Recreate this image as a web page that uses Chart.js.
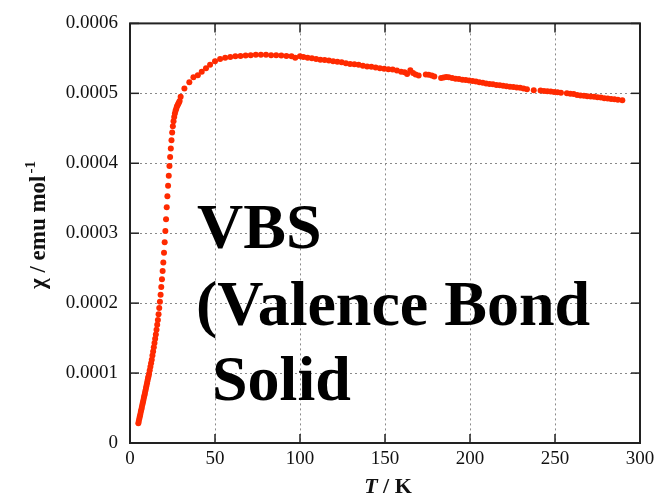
<!DOCTYPE html>
<html>
<head>
<meta charset="utf-8">
<script src="https://cdn.jsdelivr.net/npm/chart.js@4.4.0/dist/chart.umd.min.js"></script>
<style>
  html, body { margin: 0; padding: 0; background: #fff; }
  #wrap { width: 670px; height: 502px; }
</style>
</head>
<body>
<div id="wrap"><canvas id="chiPlot"></canvas></div>
<script>
// temperature (K) and susceptibility (emu/mol)
const tempK = [
  4.9, 5.2, 5.5, 5.8, 6.1, 6.4, 6.7, 7.0, 7.3, 7.6, 7.9, 8.2, 8.5, 8.8, 9.1, 9.4, 9.7, 10.0, 10.3, 10.6, 10.9,
  11.2, 11.6, 12.0, 12.4, 12.8, 13.2, 13.6, 14.0, 14.4, 14.8, 15.2, 15.6, 16.0, 16.4, 16.8, 17.2, 17.6, 18.0,
  18.4, 18.8, 19.2, 19.6, 20.0, 20.4, 20.8, 21.2, 21.6, 22.0, 22.4, 22.8, 23.2, 23.6, 24.0, 24.4, 24.8, 25.2,
  25.6, 26.0, 26.4, 26.8, 27.2, 27.6, 28.0, 28.4, 28.8, 29.2,
  29.8, 32.0, 34.9, 37.3, 39.9, 42.2, 44.7, 47.1, 50.0, 53.0, 56.0, 59.0, 62.0, 65.0, 68.0, 71.0, 74.0, 77.0,
  80.0, 83.0, 86.0, 89.0, 92.0, 95.0, 97.2, 100.0, 102.0, 104.5, 107.0, 109.5, 112.0, 114.5, 117.0, 119.5,
  122.0, 124.5, 127.0, 129.5, 132.0, 134.5, 137.0, 139.5, 142.0, 144.5, 147.0, 149.5, 152.0, 154.5, 157.0,
  159.5, 161.5, 163.0, 164.9, 166.5, 168.0, 169.8, 174.0, 175.7, 177.5, 179.0, 183.0, 184.5, 186.0, 187.5,
  189.5, 191.5, 193.5, 195.5, 197.5, 199.5, 201.5, 203.5, 205.5, 207.5, 209.5, 211.5, 213.5, 215.5, 217.5,
  219.5, 221.5, 223.5, 225.5, 227.5, 229.5, 231.5, 233.5, 237.5, 241.5, 243.5, 245.5, 247.5, 249.5, 251.5,
  253.5, 257.0, 259.0, 261.0, 263.0, 265.0, 267.0, 269.0, 271.0, 273.0, 275.0, 277.0, 279.0, 281.0, 283.0,
  285.0, 287.0, 289.6
];
const chi = [
  2.83e-5, 3.15e-5, 3.50e-5, 3.82e-5, 4.15e-5, 4.50e-5, 4.82e-5, 5.15e-5, 5.50e-5, 5.82e-5, 6.15e-5, 6.50e-5,
  6.82e-5, 7.15e-5, 7.50e-5, 7.85e-5, 8.20e-5, 8.55e-5, 8.90e-5, 9.25e-5, 9.55e-5,
  9.90e-5, 10.4e-5, 10.9e-5, 11.4e-5, 11.9e-5, 12.5e-5, 13.1e-5, 13.7e-5, 14.3e-5, 14.9e-5, 15.5e-5, 16.2e-5,
  16.9e-5, 17.6e-5, 18.4e-5, 19.3e-5, 20.2e-5, 21.2e-5, 22.3e-5, 23.4e-5, 24.6e-5, 25.8e-5, 27.2e-5, 28.7e-5,
  30.3e-5, 32.0e-5, 33.7e-5, 35.3e-5, 36.8e-5, 38.2e-5, 39.6e-5, 40.9e-5, 42.1e-5, 43.3e-5, 44.4e-5, 45.3e-5,
  46.0e-5, 46.6e-5, 47.1e-5, 47.5e-5, 47.8e-5, 48.1e-5, 48.3e-5, 48.5e-5, 48.7e-5, 48.9e-5,
  49.5e-5, 50.7e-5, 51.6e-5, 52.3e-5, 52.6e-5, 53.1e-5, 53.6e-5, 54.1e-5, 54.6e-5, 54.9e-5, 55.1e-5, 55.2e-5,
  55.3e-5, 55.35e-5, 55.4e-5, 55.45e-5, 55.5e-5, 55.5e-5, 55.5e-5, 55.45e-5, 55.45e-5, 55.4e-5, 55.35e-5,
  55.3e-5, 55.1e-5, 55.3e-5, 55.2e-5, 55.1e-5, 55.0e-5, 54.9e-5, 54.8e-5, 54.75e-5, 54.7e-5, 54.6e-5,
  54.5e-5, 54.45e-5, 54.3e-5, 54.2e-5, 54.15e-5, 54.1e-5, 53.95e-5, 53.85e-5, 53.8e-5, 53.7e-5, 53.6e-5,
  53.5e-5, 53.45e-5, 53.4e-5, 53.25e-5, 53.1e-5, 53.0e-5, 52.75e-5, 53.3e-5, 52.9e-5, 52.7e-5, 52.55e-5,
  52.7e-5, 52.65e-5, 52.55e-5, 52.4e-5, 52.2e-5, 52.25e-5, 52.35e-5, 52.3e-5, 52.2e-5, 52.1e-5, 52.05e-5,
  51.95e-5, 51.9e-5, 51.85e-5, 51.75e-5, 51.7e-5, 51.6e-5, 51.5e-5, 51.4e-5, 51.35e-5, 51.3e-5, 51.2e-5,
  51.15e-5, 51.1e-5, 51.0e-5, 50.95e-5, 50.9e-5, 50.85e-5, 50.8e-5, 50.7e-5, 50.6e-5, 50.45e-5, 50.4e-5,
  50.35e-5, 50.3e-5, 50.25e-5, 50.2e-5, 50.15e-5, 50.1e-5, 50.0e-5, 49.95e-5, 49.9e-5, 49.75e-5, 49.7e-5,
  49.65e-5, 49.6e-5, 49.55e-5, 49.5e-5, 49.45e-5, 49.4e-5, 49.3e-5, 49.25e-5, 49.2e-5, 49.15e-5, 49.1e-5,
  49.0e-5
];
const xTicks = [0, 50, 100, 150, 200, 250, 300];
const xTickLabels = ['0', '50', '100', '150', '200', '250', '300'];
const yTicks = [0, 0.0001, 0.0002, 0.0003, 0.0004, 0.0005, 0.0006];
const yTickLabels = ['0', '0.0001', '0.0002', '0.0003', '0.0004', '0.0005', '0.0006'];
const noteLines = ['VBS', '(Valence Bond', 'Solid'];

const SERIF = '"Liberation Serif", "Times New Roman", serif';

// gridlines, inward ticks, frame, axis titles and the note
const framePlugin = {
  id: 'frame',
  beforeDatasetsDraw(chart) {
    const { ctx, chartArea: a, scales: { x, y } } = chart;
    ctx.save();
    ctx.strokeStyle = '#8a8a8a';
    ctx.lineWidth = 1;
    ctx.setLineDash([2, 3]);
    xTicks.forEach(v => {
      if (v <= x.min || v >= x.max) return;
      const px = Math.round(x.getPixelForValue(v)) + 0.5;
      ctx.beginPath(); ctx.moveTo(px, a.top); ctx.lineTo(px, a.bottom); ctx.stroke();
    });
    yTicks.forEach(v => {
      if (v <= y.min || v >= y.max) return;
      const py = Math.round(y.getPixelForValue(v)) + 0.5;
      ctx.beginPath(); ctx.moveTo(a.left, py); ctx.lineTo(a.right, py); ctx.stroke();
    });
    ctx.restore();
  },
  afterDraw(chart) {
    const { ctx, chartArea: a, scales: { x, y } } = chart;
    const tl = 9;
    ctx.save();
    ctx.strokeStyle = '#222';
    ctx.lineWidth = 2;
    ctx.strokeRect(a.left, a.top, a.right - a.left, a.bottom - a.top);
    ctx.lineWidth = 1.5;
    xTicks.forEach(v => {
      const px = x.getPixelForValue(v);
      ctx.beginPath(); ctx.moveTo(px, a.bottom); ctx.lineTo(px, a.bottom - tl); ctx.stroke();
      ctx.beginPath(); ctx.moveTo(px, a.top); ctx.lineTo(px, a.top + tl); ctx.stroke();
    });
    yTicks.forEach(v => {
      const py = y.getPixelForValue(v);
      ctx.beginPath(); ctx.moveTo(a.left, py); ctx.lineTo(a.left + tl, py); ctx.stroke();
      ctx.beginPath(); ctx.moveTo(a.right, py); ctx.lineTo(a.right - tl, py); ctx.stroke();
    });

    // x title: italic T / K
    ctx.fillStyle = '#111';
    ctx.textBaseline = 'alphabetic';
    const cx = (a.left + a.right) / 2 + 3;
    const partT = 'T', partK = ' / K';
    ctx.font = 'italic bold 22px ' + SERIF;
    const wT = ctx.measureText(partT).width;
    ctx.font = 'bold 22px ' + SERIF;
    const wK = ctx.measureText(partK).width;
    let sx = cx - (wT + wK) / 2;
    ctx.font = 'italic bold 22px ' + SERIF;
    ctx.textAlign = 'left';
    ctx.fillText(partT, sx, 493);
    ctx.font = 'bold 22px ' + SERIF;
    ctx.fillText(partK, sx + wT, 493);

    // y title with superscript -1
    ctx.save();
    ctx.translate(45, 225);
    ctx.rotate(-Math.PI / 2);
    const main = '\u03c7 / emu mol', sup = '-1';
    ctx.font = 'bold 23px ' + SERIF;
    const wm = ctx.measureText(main).width;
    ctx.font = 'bold 15px ' + SERIF;
    const ws = ctx.measureText(sup).width;
    const start = -(wm + ws + 2) / 2;
    ctx.font = 'bold 23px ' + SERIF;
    ctx.fillText(main, start, 0);
    ctx.font = 'bold 15px ' + SERIF;
    ctx.fillText(sup, start + wm + 2, -10);
    ctx.restore();

    // big note inside the plot
    ctx.font = 'bold 64px ' + SERIF;
    ctx.fillStyle = '#000';
    ctx.fillText(noteLines[0], 197, 248);
    ctx.fillText(noteLines[1], 196, 325);
    ctx.fillText(noteLines[2], 212, 400);
    ctx.restore();
  }
};

const ctx = document.getElementById('chiPlot').getContext('2d');
new Chart(ctx, {
  type: 'scatter',
  data: {
    datasets: [{
      label: 'chi',
      data: tempK.map((t, i) => ({ x: t, y: chi[i] })),
      backgroundColor: '#ff2a00',
      borderColor: '#ff2a00',
      borderWidth: 0,
      pointRadius: 3,
      pointHoverRadius: 3,
      showLine: false
    }]
  },
  options: {
    responsive: true,
    maintainAspectRatio: false,
    animation: false,
    events: [],
    layout: { padding: { left: 0, right: 30, top: 13, bottom: 0 } },
    plugins: { legend: { display: false }, tooltip: { enabled: false } },
    scales: {
      x: {
        type: 'linear',
        min: 0, max: 300,
        afterBuildTicks: s => { s.ticks = xTicks.map(v => ({ value: v })); },
        afterFit: s => { s.height = 59; },
        grid: { display: false, drawTicks: false },
        border: { display: false },
        ticks: {
          padding: 5,
          color: '#111',
          font: { family: SERIF, size: 19 },
          callback: (v) => xTickLabels[xTicks.indexOf(v)]
        }
      },
      y: {
        type: 'linear',
        min: 0, max: 0.0006,
        afterBuildTicks: s => { s.ticks = yTicks.map(v => ({ value: v })); },
        afterFit: s => { s.width = 130; },
        grid: { display: false, drawTicks: false },
        border: { display: false },
        ticks: {
          padding: 12,
          color: '#111',
          font: { family: SERIF, size: 19 },
          callback: (v) => yTickLabels[yTicks.indexOf(v)]
        }
      }
    }
  },
  plugins: [framePlugin]
});
</script>
</body>
</html>
